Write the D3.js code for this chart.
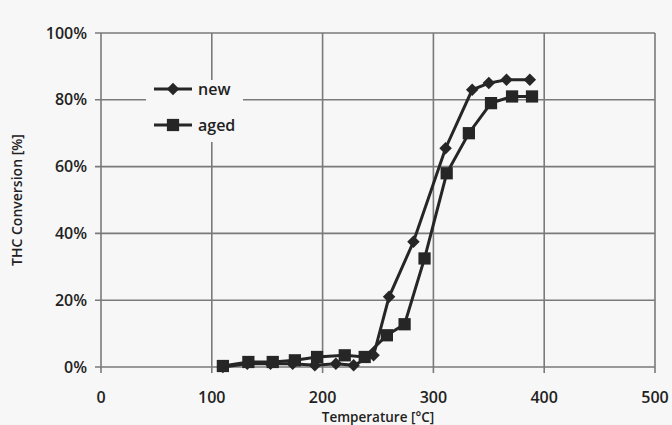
<!DOCTYPE html>
<html>
<head>
<meta charset="utf-8">
<script src="https://cdn.jsdelivr.net/npm/d3@7"></script>
<style>
  html, body { margin: 0; padding: 0; background: #f7f7f7; }
  svg { display: block; font-family: "Open Sans", sans-serif; }
</style>
</head>
<body>
<div id="chart"></div>
<script>
// Dados
const tempNew = [110, 132, 153, 173, 193, 212, 228, 246, 260, 282, 311, 335, 350, 366, 387];
const convNew = [0, 1, 1, 1, 0.5, 1, 0.5, 3.5, 21, 37.5, 65.5, 83, 85, 86, 86];
const tempAged = [110, 133, 155, 175, 195, 220, 238, 258, 274, 292, 312, 332, 352, 371, 389];
const convAged = [0.3, 1.5, 1.5, 2, 3, 3.5, 3, 9.5, 12.8, 32.5, 58, 70, 79, 81, 81];
const xTicks = [0, 100, 200, 300, 400, 500];
const yTicks = [0, 20, 40, 60, 80, 100];
const seriesNames = ['new', 'aged'];

const width = 672, height = 425;
const margin = { top: 33, right: 17, bottom: 58, left: 101 };

const svg = d3.select('#chart')
  .append('svg')
  .attr('width', width)
  .attr('height', height);

// Escalas
const x = d3.scaleLinear().domain([0, 500]).range([margin.left, width - margin.right]);
const y = d3.scaleLinear().domain([0, 100]).range([height - margin.bottom, margin.top]);

const gridColor = '#7a7a7a';
const ink = '#262626';

// Grade vertical
svg.append('g')
  .selectAll('line')
  .data(xTicks)
  .join('line')
  .attr('x1', d => x(d)).attr('x2', d => x(d))
  .attr('y1', y(100)).attr('y2', y(0) + 6)
  .attr('stroke', gridColor)
  .attr('stroke-width', 1.6);

// Grade horizontal
svg.append('g')
  .selectAll('line')
  .data(yTicks)
  .join('line')
  .attr('x1', x(0) - 6).attr('x2', x(500))
  .attr('y1', d => y(d)).attr('y2', d => y(d))
  .attr('stroke', gridColor)
  .attr('stroke-width', 1.6);

// Rótulos do eixo X
svg.append('g')
  .selectAll('text')
  .data(xTicks)
  .join('text')
  .attr('x', d => x(d))
  .attr('y', y(0) + 36)
  .attr('text-anchor', 'middle')
  .attr('font-size', 16)
  .attr('font-weight', 600)
  .attr('fill', '#222')
  .text(d => d);

// Rótulos do eixo Y
svg.append('g')
  .selectAll('text')
  .data(yTicks)
  .join('text')
  .attr('x', x(0) - 14)
  .attr('y', d => y(d))
  .attr('dy', '0.35em')
  .attr('text-anchor', 'end')
  .attr('font-size', 16)
  .attr('font-weight', 600)
  .attr('fill', '#222')
  .text(d => d + '%');

// Títulos dos eixos
svg.append('text')
  .attr('x', (x(0) + x(500)) / 2)
  .attr('y', height - 3)
  .attr('text-anchor', 'middle')
  .attr('font-size', 13.5)
  .attr('font-weight', 600)
  .attr('fill', '#222')
  .text('Temperature [°C]');

svg.append('text')
  .attr('transform', `translate(22, ${(y(0) + y(100)) / 2}) rotate(-90)`)
  .attr('text-anchor', 'middle')
  .attr('font-size', 14)
  .attr('font-weight', 600)
  .attr('fill', '#222')
  .text('THC Conversion [%]');

// Linhas
const line = d3.line().x(d => x(d[0])).y(d => y(d[1]));
const dataNew = tempNew.map((t, i) => [t, convNew[i]]);
const dataAged = tempAged.map((t, i) => [t, convAged[i]]);

const diamond = d3.symbol().type(d3.symbolDiamond2).size(100);
const square = d3.symbol().type(d3.symbolSquare).size(150);

[[dataNew, diamond], [dataAged, square]].forEach(([data, sym]) => {
  svg.append('path')
    .datum(data)
    .attr('d', line)
    .attr('fill', 'none')
    .attr('stroke', ink)
    .attr('stroke-width', 3);
  svg.append('g')
    .selectAll('path')
    .data(data)
    .join('path')
    .attr('transform', d => `translate(${x(d[0])},${y(d[1])})`)
    .attr('d', sym)
    .attr('fill', ink);
});

// Legenda
const legend = svg.append('g');
legend.append('rect')
  .attr('x', 146).attr('y', 80)
  .attr('width', 97).attr('height', 62)
  .attr('fill', '#f7f7f7');

const legendItems = legend.selectAll('g')
  .data(seriesNames)
  .join('g')
  .attr('transform', (d, i) => `translate(154, ${89 + i * 36})`);

legendItems.append('line')
  .attr('x1', 0).attr('x2', 38)
  .attr('stroke', ink)
  .attr('stroke-width', 3);

legendItems.append('path')
  .attr('transform', 'translate(19,0)')
  .attr('d', (d, i) => (i === 0 ? diamond : square)())
  .attr('fill', ink);

legendItems.append('text')
  .attr('x', 44)
  .attr('dy', '0.35em')
  .attr('font-size', 16)
  .attr('font-weight', 600)
  .attr('fill', '#222')
  .text(d => d);
</script>
</body>
</html>
